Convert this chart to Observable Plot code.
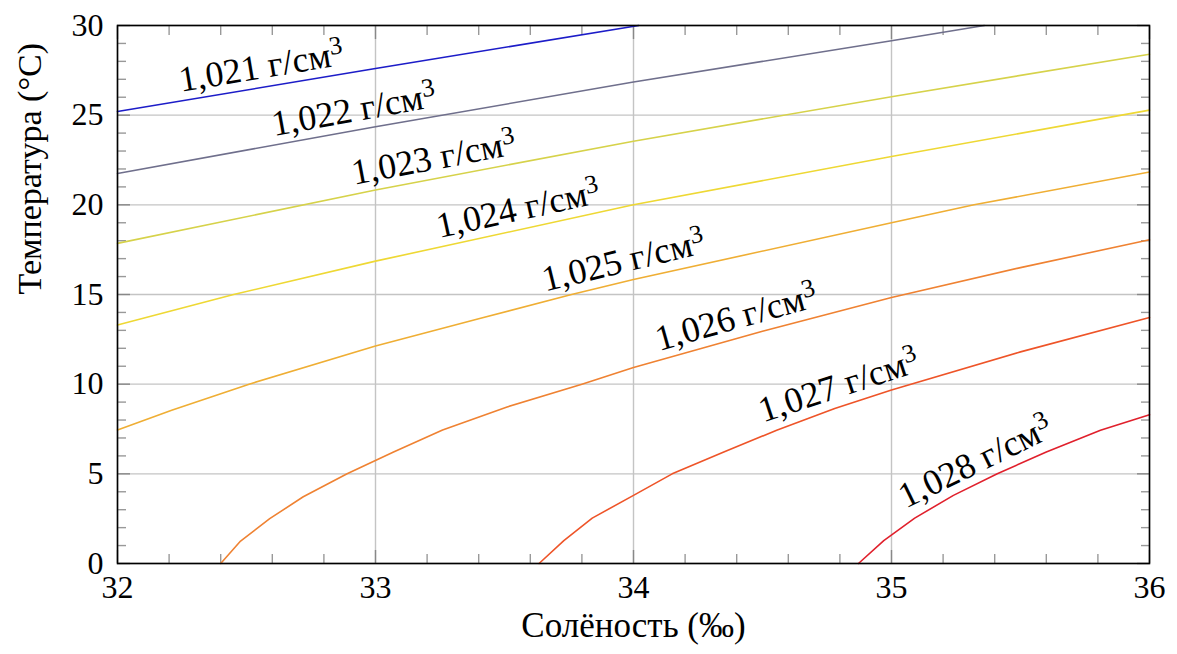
<!DOCTYPE html>
<html><head><meta charset="utf-8">
<script src="https://cdn.jsdelivr.net/npm/d3@7"></script>
<script src="https://cdn.jsdelivr.net/npm/@observablehq/plot@0.6"></script>
<style>body{margin:0;background:#fff}</style>
</head><body><div id="chart"></div>
<script>
// ---- data ----
const densities = ["1,021", "1,022", "1,023", "1,024", "1,025", "1,026", "1,027", "1,028"];
const colors = ["#1c1cc8", "#6f6f8c", "#d6d24a", "#eed834", "#efae34", "#ef8232", "#ee5428", "#e0202c"];
// [salinity ‰, temperature °C]
const line1021 = [[32, 25.2], [33, 27.6], [34.02, 30]];
const line1022 = [[32, 21.75], [33, 24.35], [34, 26.85], [35, 29.15], [35.36, 30]];
const line1023 = [[32, 17.85], [33, 20.83], [34, 23.55], [35, 26.03], [36, 28.4]];
const line1024 = [[32, 13.3], [32.45, 15.0], [33, 16.86], [34, 20.0], [35, 22.7], [36, 25.28]];
const line1025 = [[32, 7.45], [32.21, 8.55], [32.51, 10.0], [33, 12.13], [33.4, 13.65], [33.76, 15.0], [34, 15.84], [35, 19.0], [35.32, 20.0], [36, 21.83]];
const line1026 = [[32.4, 0], [32.477, 1.25], [32.59, 2.5], [32.72, 3.72], [32.89, 5.0], [33.07, 6.22], [33.26, 7.45], [33.51, 8.73], [33.8, 10.0], [34, 10.93], [34.5, 12.95], [35, 14.83], [35.5, 16.5], [36, 18.05]];
const line1027 = [[33.634, 0], [33.73, 1.28], [33.84, 2.53], [34, 3.8], [34.15, 5.0], [34.35, 6.22], [34.555, 7.43], [34.78, 8.64], [35, 9.68], [35.5, 11.8], [36, 13.72]];
const line1028 = [[34.872, 0], [34.97, 1.28], [35.09, 2.53], [35.24, 3.8], [35.41, 5.0], [35.6, 6.22], [35.81, 7.43], [36, 8.3]];
const isolines = [line1021, line1022, line1023, line1024, line1025, line1026, line1027, line1028];
const labelSalinity = [32.57, 32.93, 33.24, 33.57, 33.98, 34.42, 34.82, 35.36];
const unit = " г/см";
const xTicks = [32, 33, 34, 35, 36];
const yTicks = [0, 5, 10, 15, 20, 25, 30];
const xMinor = [32.2, 32.4, 32.6, 32.8, 33.2, 33.4, 33.6, 33.8, 34.2, 34.4, 34.6, 34.8, 35.2, 35.4, 35.6, 35.8];
const yMinor = [1, 2, 3, 4, 6, 7, 8, 9, 11, 12, 13, 14, 16, 17, 18, 19, 21, 22, 23, 24, 26, 27, 28, 29];
const xLabel = "Солёность (‰)";
const yLabel = "Температура (°C)";

// ---- layout ----
const W = 1177, H = 654, ML = 117, MR = 28, MT = 25, MB = 91;
const kx = (W - ML - MR) / 4, ky = (H - MT - MB) / 30;
const FONT = "Liberation Serif";
const LABEL_GAP = 9; // px, perpendicular gap above the isoline

const rows = isolines.flatMap((pts, i) => pts.map(([S, T]) => ({S, T, rho: densities[i]})));

const labels = isolines.map((pts, i) => {
  const s = labelSalinity[i];
  let j = 0;
  while (j < pts.length - 2 && pts[j + 1][0] < s) j++;
  const [s0, t0] = pts[j], [s1, t1] = pts[j + 1];
  const slope = (t1 - t0) / (s1 - s0);
  const T = t0 + slope * (s - s0);
  const a = Math.atan(slope * ky / kx); // radians, upward
  return {
    S: s - LABEL_GAP * Math.sin(a) / kx,
    T: T + LABEL_GAP * Math.cos(a) / ky,
    angle: -a * 180 / Math.PI,
    text: densities[i] + unit
  };
});

const tickGray = "#999";
const tf = d => String(d);

const chart = Plot.plot({
  width: W, height: H,
  marginLeft: ML, marginRight: MR, marginTop: MT, marginBottom: MB,
  x: {domain: [32, 36], label: null},
  y: {domain: [0, 30], label: null},
  color: {domain: densities, range: colors},
  marks: [
    Plot.gridX(xTicks, {stroke: "#c4c4c4", strokeOpacity: 1, strokeWidth: 1.4}),
    Plot.gridY(yTicks, {stroke: "#c4c4c4", strokeOpacity: 1, strokeWidth: 1.4}),
    // minor ticks, inward on all four sides
    Plot.axisX(xMinor, {anchor: "bottom", tickSize: 9, dy: -9, fill: "none", label: null, stroke: tickGray, strokeWidth: 1.4}),
    Plot.axisX(xMinor, {anchor: "top", tickSize: 9, dy: 9, fill: "none", label: null, stroke: tickGray, strokeWidth: 1.4}),
    Plot.axisY(yMinor, {anchor: "left", tickSize: 9, dx: 9, fill: "none", label: null, stroke: tickGray, strokeWidth: 1.4}),
    Plot.axisY(yMinor, {anchor: "right", tickSize: 9, dx: -9, fill: "none", label: null, stroke: tickGray, strokeWidth: 1.4}),
    // major ticks
    Plot.axisX(xTicks, {anchor: "bottom", tickSize: 13, dy: -13, fill: "none", label: null, stroke: "#888", strokeWidth: 1.4}),
    Plot.axisX(xTicks, {anchor: "top", tickSize: 13, dy: 13, fill: "none", label: null, stroke: "#888", strokeWidth: 1.4}),
    Plot.axisY(yTicks, {anchor: "left", tickSize: 13, dx: 13, fill: "none", label: null, stroke: "#888", strokeWidth: 1.4}),
    Plot.axisY(yTicks, {anchor: "right", tickSize: 13, dx: -13, fill: "none", label: null, stroke: "#888", strokeWidth: 1.4}),
    Plot.line(rows, {x: "S", y: "T", z: "rho", stroke: "rho", strokeWidth: 1.6}),
    Plot.frame({stroke: "black", strokeWidth: 1.6}),
    // tick labels
    Plot.axisX(xTicks, {anchor: "bottom", tickSize: 0, tickPadding: 12, tickFormat: tf, label: null, fontSize: 32, fontFamily: FONT, fill: "black"}),
    Plot.axisY(yTicks, {anchor: "left", tickSize: 0, tickPadding: 14, tickFormat: tf, label: null, fontSize: 32, fontFamily: FONT, fill: "black"}),
    // axis titles
    Plot.text([xLabel], {frameAnchor: "bottom", text: d => d, dy: 73, fontSize: 35, fontFamily: FONT, fill: "black"}),
    Plot.text([yLabel], {frameAnchor: "left", text: d => d, rotate: -90, dx: -87, fontSize: 34, fontFamily: FONT, fill: "black"}),
    // isoline labels
    Plot.text(labels, {x: "S", y: "T", text: "text", rotate: "angle", textAnchor: "middle", lineAnchor: "bottom", fontSize: 36, fontFamily: FONT, fill: "black", className: "isolabel"})
  ]
});

// inline font style on every text element
chart.querySelectorAll("text").forEach(t => t.setAttribute("style", "font-family: 'Liberation Serif'"));

// superscript "3" in the unit
chart.querySelectorAll(".isolabel text").forEach(t => {
  const sup = document.createElementNS("http://www.w3.org/2000/svg", "tspan");
  sup.setAttribute("dy", "-0.45em");
  sup.setAttribute("font-size", "0.72em");
  sup.textContent = "3";
  t.appendChild(sup);
});

document.getElementById("chart").appendChild(chart);
</script>
</body></html>
